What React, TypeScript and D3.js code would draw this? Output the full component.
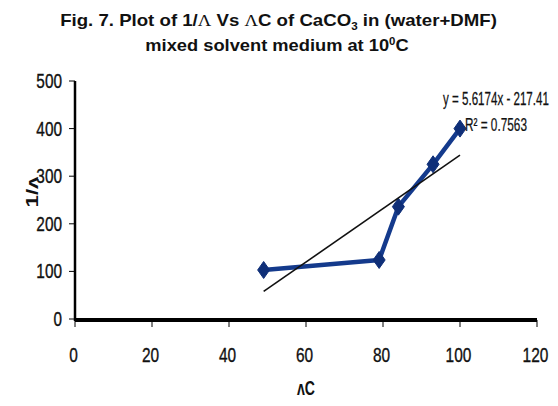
import React, { useLayoutEffect, useRef, useState } from "react";
import * as d3 from "d3";

// Measured conductance data for CaCO3 in water + DMF at 10 °C
const lambdaC: number[] = [49, 79, 84, 93, 100];
const invLambda: number[] = [103, 124, 236, 325, 400];

// Linear trendline reported for the series
const slope = 5.6174;
const intercept = -217.41;
const equationLabel = "y = 5.6174x - 217.41";
const r2Label = "R\u00b2 = 0.7563";

const xTicks: number[] = [0, 20, 40, 60, 80, 100, 120];
const yTicks: number[] = [0, 100, 200, 300, 400, 500];

const W = 558;
const H = 406;
const SANS = "'Liberation Sans', Arial, sans-serif";

type FitProps = {
  x: number;
  y: number;
  width: number;
  anchor?: "start" | "middle" | "end";
  children: React.ReactNode;
  [k: string]: unknown;
};

// Text squeezed or stretched horizontally to a given width, keeping its height.
function FitText({ x, y, width, anchor = "start", children, ...rest }: FitProps) {
  const ref = useRef<SVGTextElement>(null);
  const [sx, setSx] = useState(1);
  useLayoutEffect(() => {
    if (ref.current) {
      const w = ref.current.getBBox().width;
      if (w > 0) setSx(width / w);
    }
  }, [width, children]);
  return (
    <g transform={`translate(${x},${y}) scale(${sx},1)`}>
      <text ref={ref} x={0} y={0} textAnchor={anchor} {...(rest as object)}>
        {children}
      </text>
    </g>
  );
}

export default function App() {
  const x = d3.scaleLinear().domain([0, 120]).range([75, 537]);
  const y = d3.scaleLinear().domain([0, 500]).range([319, 81]);

  const pts = lambdaC.map((v, i) => [x(v), y(invLambda[i])] as [number, number]);
  const line = d3.line()(pts) ?? "";

  const xMin = d3.min(lambdaC) as number;
  const xMax = d3.max(lambdaC) as number;
  const trend =
    d3.line()([
      [x(xMin), y(slope * xMin + intercept)],
      [x(xMax), y(slope * xMax + intercept)],
    ]) ?? "";

  const diamond = (cx: number, cy: number) =>
    `M${cx},${cy - 8.5}L${cx + 6},${cy}L${cx},${cy + 8.5}L${cx - 6},${cy}Z`;

  const digitW = 8.6;

  return (
    <svg width={W} height={H} style={{ position: "absolute", left: 0, top: 0, background: "#fff" }}>
      <rect width={W} height={H} fill="#fff" />

      {/* Title */}
      <g fontFamily={SANS} fontWeight="bold" fontSize={16} fill="#111">
        <FitText x={278.5} y={25.7} width={437} anchor="middle">
          Fig. 7. Plot of 1/
          <tspan fontFamily="'Liberation Serif', serif" fontWeight="normal">Λ</tspan> Vs{" "}
          <tspan fontFamily="'Liberation Serif', serif" fontWeight="normal">Λ</tspan>C of CaCO
          <tspan fontSize={10} dy={4}>3</tspan>
          <tspan dy={-4}> in (water+DMF)</tspan>
        </FitText>
        <FitText x={277} y={50.7} width={264} anchor="middle">
          mixed solvent medium at 10
          <tspan fontSize={10} dy={-6}>0</tspan>
          <tspan dy={6}>C</tspan>
        </FitText>
      </g>

      {/* Y axis */}
      <line x1={x(0)} x2={x(0)} y1={y(500)} y2={y(0) + 2} stroke="#000" strokeWidth={2.5} />
      {yTicks.map((t) => (
        <g key={`y${t}`}>
          <line x1={x(0) - 6} x2={x(0)} y1={y(t)} y2={y(t)} stroke="#000" strokeWidth={1} />
          <FitText
            x={62}
            y={y(t) + 7}
            width={String(t).length * digitW}
            anchor="end"
            fontFamily={SANS}
            fontSize={19.5}
            fill="#111"
            stroke="#111"
            strokeWidth={0.35}
          >
            {t}
          </FitText>
        </g>
      ))}

      {/* X axis */}
      <line x1={x(0)} x2={x(120)} y1={y(0) + 1} y2={y(0) + 1} stroke="#000" strokeWidth={4} />
      {xTicks.map((t) => (
        <g key={`x${t}`}>
          <line x1={x(t)} x2={x(t)} y1={y(0) + 1} y2={y(0) + 8} stroke="#000" strokeWidth={1} />
          <FitText
            x={x(t) - 1.5}
            y={362}
            width={String(t).length * digitW}
            anchor="middle"
            fontFamily={SANS}
            fontSize={20}
            fill="#111"
            stroke="#111"
            strokeWidth={0.35}
          >
            {t}
          </FitText>
        </g>
      ))}

      {/* Axis titles */}
      <FitText x={306} y={395} width={18} anchor="middle" fontFamily={SANS} fontWeight="bold" fontSize={20} fill="#111">
        ʌC
      </FitText>
      <g transform="translate(38,192) rotate(-90)">
        <FitText x={0} y={0} width={31} anchor="middle" fontFamily={SANS} fontWeight="bold" fontSize={16} fill="#111">
          1/ʌ
        </FitText>
      </g>

      {/* Series */}
      <path d={line} fill="none" stroke="#143a8c" strokeWidth={4.5} strokeLinejoin="round" />
      {pts.map(([cx, cy], i) => (
        <path key={`m${i}`} d={diamond(cx, cy)} fill="#0f2f78" stroke="#0f2f78" strokeWidth={1} />
      ))}

      {/* Trendline */}
      <path d={trend} fill="none" stroke="#111" strokeWidth={1.6} />

      {/* Trendline equation */}
      <g fontFamily={SANS} fontSize={18} fill="#111" stroke="#111" strokeWidth={0.25}>
        <FitText x={443} y={105} width={106}>
          {equationLabel}
        </FitText>
        <FitText x={465} y={131} width={62}>
          {r2Label}
        </FitText>
      </g>
    </svg>
  );
}
